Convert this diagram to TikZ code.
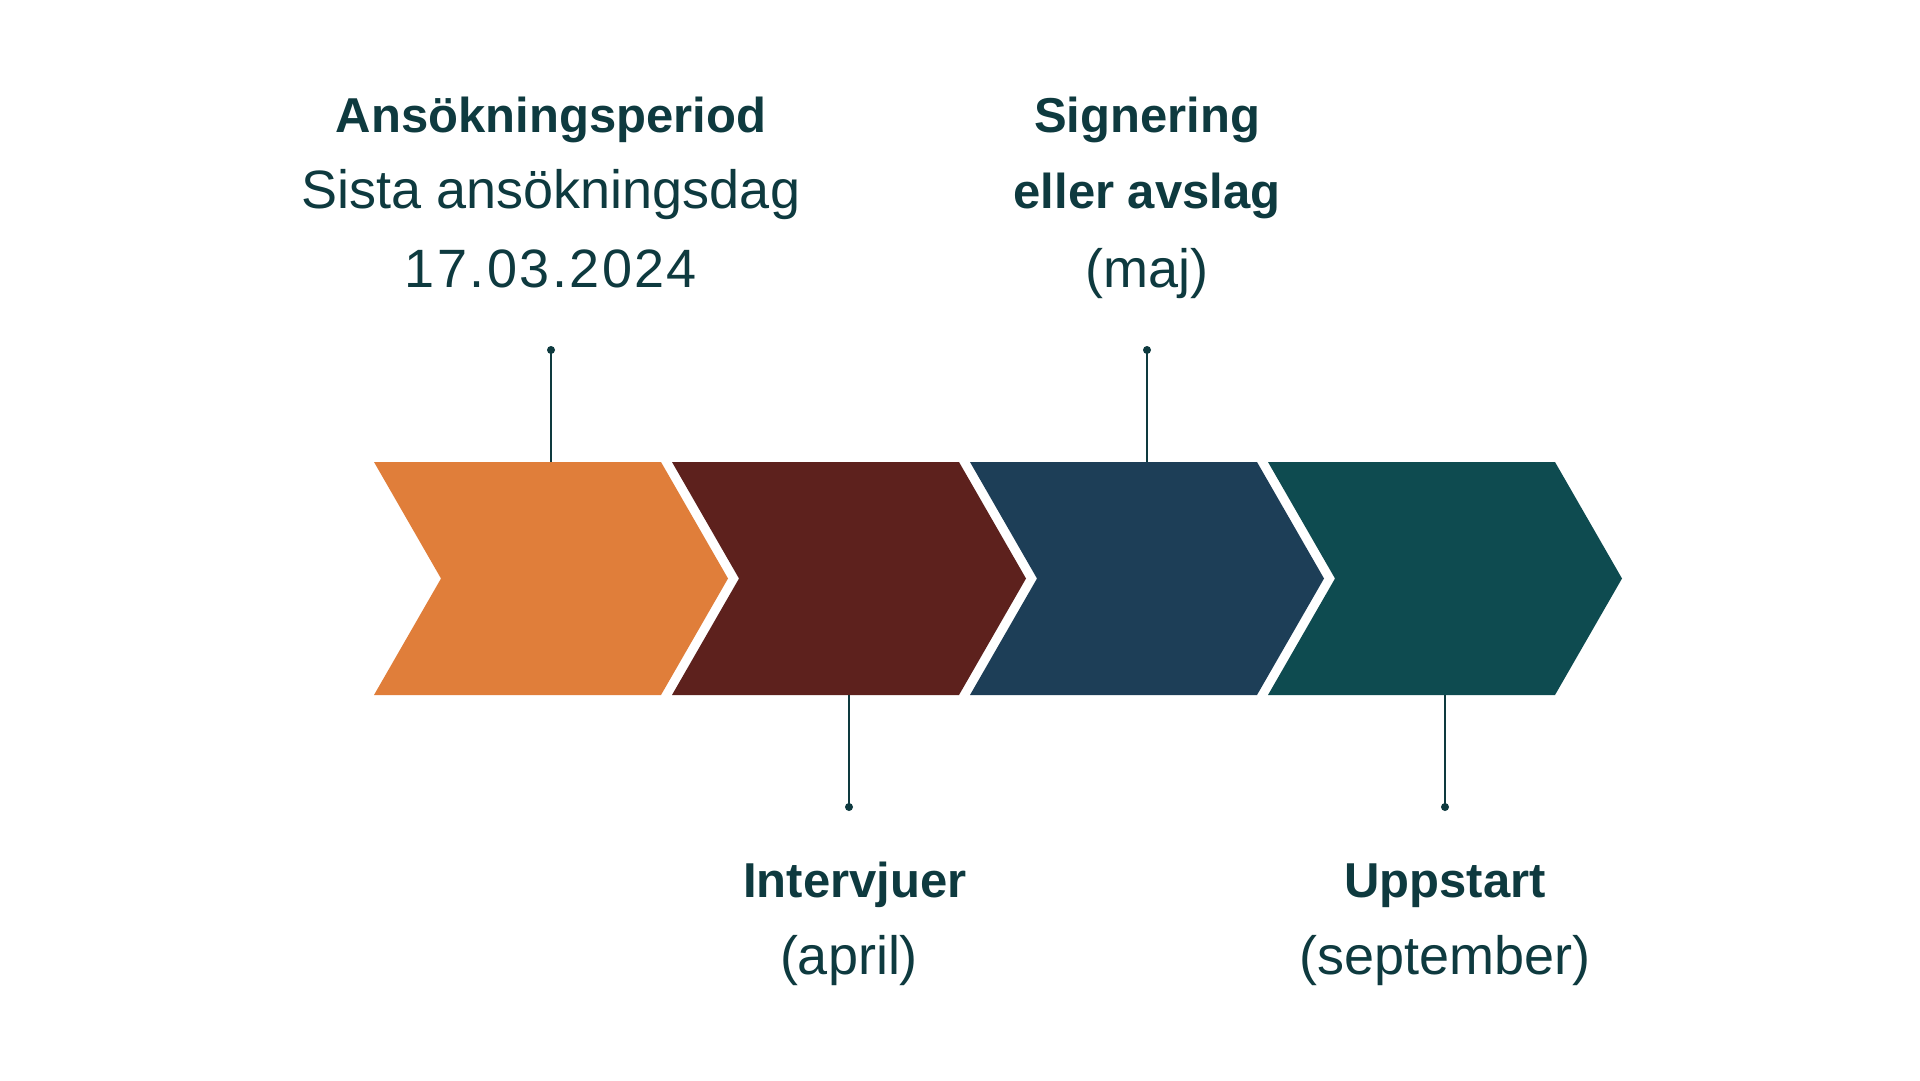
\documentclass[tikz,border=0pt]{standalone}
\usepackage{fontspec}
\setmainfont{Liberation Sans}
\newfontfamily\datefont[LetterSpace=4.5]{Liberation Sans}
\definecolor{txtc}{HTML}{0E3A3F}
\definecolor{corange}{HTML}{E07E3A}
\definecolor{cbrown}{HTML}{5D211D}
\definecolor{cnavy}{HTML}{1D3E57}
\definecolor{cteal}{HTML}{0E4B50}
\tikzset{
  reg/.style={anchor=base, inner sep=0pt, text=txtc, font=\fontsize{54}{60}\selectfont},
  bld/.style={anchor=base, inner sep=0pt, text=txtc, font=\bfseries\fontsize{49}{56}\selectfont},
  conn/.style={draw=txtc, line width=2pt},
  dotc/.style={fill=txtc},
}
\newcommand{\chevron}[2]{%
  \fill[#2] (#1,462) -- ++(287,0) -- ++(67,116.5) -- ++(-67,116.5) -- ++(-287,0) -- ++(67,-116.5) -- cycle;}
\begin{document}
\begin{tikzpicture}[x=1pt,y=-1pt]
\useasboundingbox[fill=white] (0,0) rectangle (1920,1080);
% chevrons
\chevron{374}{corange}
\chevron{672}{cbrown}
\chevron{970}{cnavy}
\chevron{1268}{cteal}
% anchor coordinates on chevrons
\coordinate (c1) at (551,462);
\coordinate (c2) at (849,695);
\coordinate (c3) at (1147,462);
\coordinate (c4) at (1445,695);
% dot coordinates
\coordinate (d1) at (551,350);
\coordinate (d2) at (849,807);
\coordinate (d3) at (1147,350);
\coordinate (d4) at (1445,807);
% connectors
\draw[conn] (d1) -- (c1);
\draw[conn] (d2) -- (c2);
\draw[conn] (d3) -- (c3);
\draw[conn] (d4) -- (c4);
\fill[dotc] (d1) circle[radius=4pt];
\fill[dotc] (d2) circle[radius=4pt];
\fill[dotc] (d3) circle[radius=4pt];
\fill[dotc] (d4) circle[radius=4pt];
% texts
\node[bld] (t1a) at (551,132) {Ansökningsperiod};
\node[reg] (t1b) at (551,208) {Sista ansökningsdag};
\node[reg, font=\datefont\fontsize{54}{60}\selectfont] (t1c) at (551,287) {17.03.2024};
\node[bld] (t3a) at (1147,132) {Signering};
\node[bld] (t3b) at (1147,208) {eller avslag};
\node[reg] (t3c) at (1147,287) {(maj)};
\node[bld] (t2a) at (855,897) {Intervjuer};
\node[reg] (t2b) at (849,974) {(april)};
\node[bld] (t4a) at (1445,897) {Uppstart};
\node[reg] (t4b) at (1445,974) {(september)};
\end{tikzpicture}
\end{document}
